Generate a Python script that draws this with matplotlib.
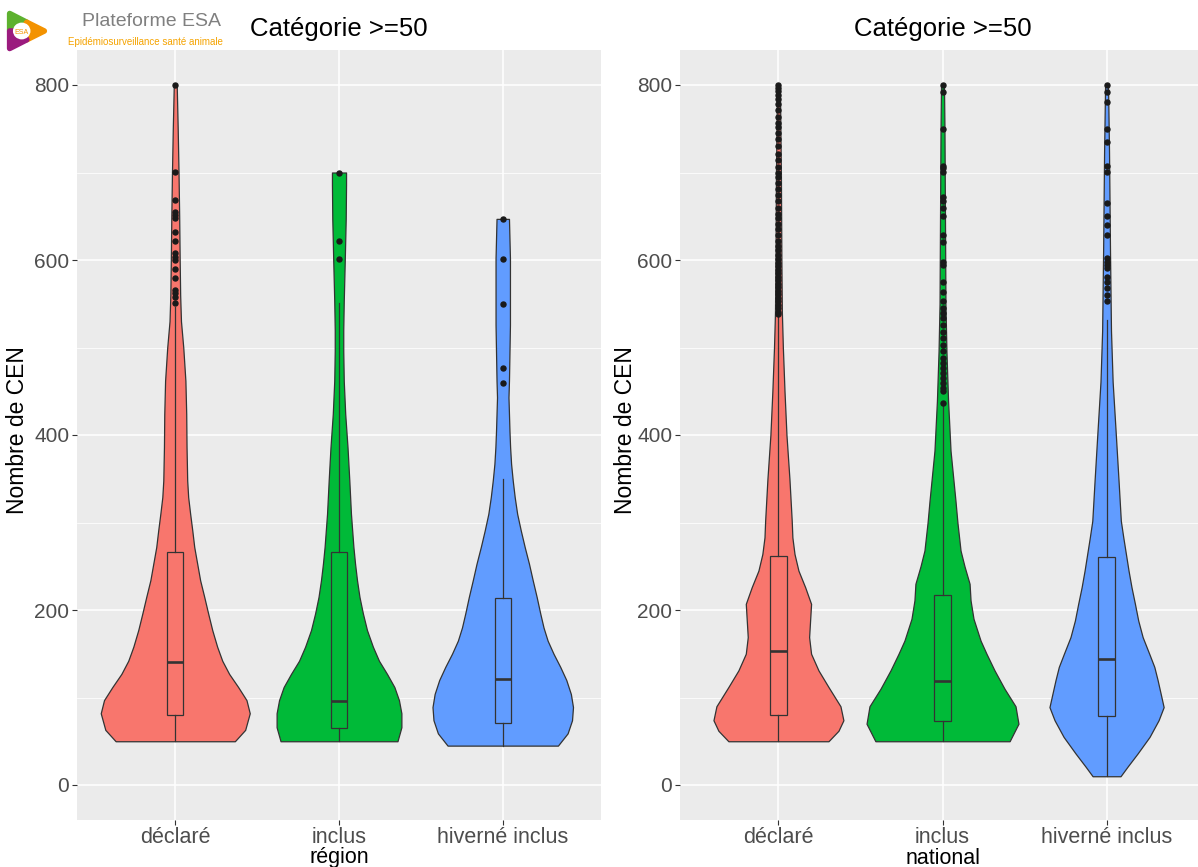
import matplotlib
matplotlib.use('Agg')
import matplotlib.pyplot as plt
import numpy as np
from matplotlib.patches import Polygon, Circle

plt.rcParams['font.family'] = ['Liberation Sans', 'DejaVu Sans']

# ---------------- data ----------------
categories = ['déclaré', 'inclus', 'hiverné inclus']
colors = ['#F8766D', '#00BA38', '#619CFF']
panel_titles = ['Catégorie >=50', 'Catégorie >=50']
x_titles = ['région', 'national']
y_title = 'Nombre de CEN'
y_ticks = [0, 200, 400, 600, 800]
y_minor = [100, 300, 500, 700]

# violin profiles (value level, half width in category units)
reg_decl_y = [50, 63, 82, 97, 112, 127, 142, 158, 177, 196, 215, 234, 253, 272, 291, 310, 329, 348, 367,
              386, 424, 462, 500, 530, 560, 600, 650, 700, 750, 800]
reg_decl_w = [0.364, 0.427, 0.455, 0.435, 0.384, 0.329, 0.287, 0.256, 0.226, 0.201, 0.177, 0.152, 0.134,
              0.116, 0.104, 0.091, 0.079, 0.073, 0.071, 0.069, 0.067, 0.062, 0.049, 0.035, 0.030, 0.027,
              0.024, 0.020, 0.015, 0.009]
reg_incl_y = [50, 66, 82, 97, 112, 127, 142, 158, 177, 196, 215, 234, 253, 272, 310, 348, 386, 424, 462,
              496, 520, 553, 598, 647, 686, 700]
reg_incl_w = [0.357, 0.381, 0.381, 0.366, 0.338, 0.293, 0.244, 0.207, 0.171, 0.146, 0.125, 0.110, 0.098,
              0.088, 0.073, 0.063, 0.052, 0.038, 0.029, 0.026, 0.026, 0.029, 0.035, 0.041, 0.043, 0.043]
reg_hiv_y = [45, 59, 74, 89, 104, 120, 135, 150, 165, 180, 196, 215, 234, 253, 272, 291, 310, 329, 348,
             367, 386, 405, 424, 443, 462, 526, 602, 647]
reg_hiv_w = [0.337, 0.396, 0.423, 0.429, 0.416, 0.388, 0.351, 0.310, 0.274, 0.249, 0.229, 0.207, 0.183,
             0.160, 0.134, 0.110, 0.088, 0.073, 0.061, 0.051, 0.045, 0.041, 0.038, 0.035, 0.038, 0.044,
             0.044, 0.038]

nat_decl_y = [50, 62, 74, 90, 112, 131, 150, 169, 188, 207, 226, 245, 264, 283, 302, 350, 400, 450, 500,
              540, 600, 700, 800]
nat_decl_w = [0.305, 0.366, 0.396, 0.378, 0.305, 0.244, 0.199, 0.187, 0.193, 0.199, 0.163, 0.122, 0.098,
              0.085, 0.081, 0.067, 0.049, 0.037, 0.027, 0.021, 0.018, 0.015, 0.009]
nat_incl_y = [50, 70, 90, 110, 131, 150, 165, 190, 211, 230, 250, 268, 300, 325, 382, 439, 496, 550, 650,
              750, 800]
nat_incl_w = [0.409, 0.463, 0.445, 0.378, 0.317, 0.268, 0.232, 0.189, 0.171, 0.165, 0.134, 0.110, 0.091,
              0.079, 0.049, 0.034, 0.024, 0.018, 0.015, 0.012, 0.009]
nat_hiv_y = [10, 21, 36, 55, 74, 89, 105, 120, 135, 150, 169, 188, 207, 226, 245, 264, 283, 302, 348, 405,
             461, 519, 610, 724, 800]
nat_hiv_w = [0.085, 0.128, 0.189, 0.262, 0.317, 0.348, 0.329, 0.311, 0.291, 0.260, 0.220, 0.193, 0.173,
             0.152, 0.134, 0.118, 0.102, 0.087, 0.073, 0.055, 0.037, 0.027, 0.021, 0.015, 0.009]

# box statistics: lower whisker, Q1, median, Q3, upper whisker
reg_boxes = [[50, 80.5, 140.5, 266.7, 546], [50, 64.6, 95.7, 265.9, 551], [45, 71.4, 121.6, 213.5, 349.5]]
nat_boxes = [[50, 80.5, 152.7, 262, 535], [50, 73, 118.5, 217.7, 435], [10, 79, 143.6, 260.2, 532]]

# outliers
reg_decl_out = [800, 701, 669, 655, 651, 648, 632, 622, 608, 604, 600, 590, 580, 566, 562, 558, 551]
reg_incl_out = [700, 622, 601]
reg_hiv_out = [647, 601, 550, 477, 460]
nat_decl_out = [800, 797, 793, 789, 784, 778, 771, 763, 757, 752, 745, 738, 730, 721, 714, 706, 700, 695,
                688, 681, 674, 667, 660, 653, 648, 641, 636, 629, 622, 616, 611, 606, 601, 597, 593, 589,
                585, 581, 577, 573, 569, 565, 561, 557, 553, 549, 545, 541, 538]
nat_incl_out = [800, 792, 750, 708, 705, 701, 672, 667, 659, 650, 629, 621, 598, 594, 575, 564, 553, 545,
                539, 534, 526, 518, 511, 503, 496, 488, 482, 477, 471, 465, 460, 454, 450, 437]
nat_hiv_out = [800, 792, 781, 750, 735, 708, 701, 665, 650, 640, 629, 602, 598, 594, 591, 581, 575, 568,
               560, 553]

# ---------------- figure ----------------
W, H = 1198, 867
fig = plt.figure(figsize=(W / 100, H / 100), dpi=100)
fig.patch.set_facecolor('white')


def px_axes(l, t, r, b):
    return fig.add_axes([l / W, 1 - b / H, (r - l) / W, (b - t) / H])


def draw_panel(ax, profiles, boxes, outliers, title):
    ax.set_facecolor('#EBEBEB')
    for s in ax.spines.values():
        s.set_visible(False)
    ax.set_xlim(0.4, 3.6)
    ax.set_ylim(-40, 840)
    ax.set_yticks(y_ticks)
    ax.set_yticks(y_minor, minor=True)
    ax.set_xticks([1, 2, 3])
    ax.set_xticklabels(categories)
    ax.grid(which='major', color='white', lw=1.1, zorder=0)
    ax.grid(which='minor', axis='y', color='white', lw=0.55, zorder=0)
    ax.set_axisbelow(True)
    ax.tick_params(which='major', length=3.5, width=0.8, color='#333333', labelcolor='#4D4D4D', pad=2)
    ax.tick_params(axis='x', labelsize=15.5, pad=1.2)
    ax.tick_params(axis='y', labelsize=15)
    ax.tick_params(which='minor', length=0)
    for i, ((yv, wv), col) in enumerate(zip(profiles, colors)):
        yv = np.asarray(yv, float)
        wv = np.asarray(wv, float)
        ax.fill_betweenx(yv, i + 1 - wv, i + 1 + wv, facecolor=col, edgecolor='#333333', lw=0.9, zorder=2)
    stats = [dict(whislo=b[0], q1=b[1], med=b[2], q3=b[3], whishi=b[4], fliers=o)
             for b, o in zip(boxes, outliers)]
    bp = ax.bxp(stats, positions=[1, 2, 3], widths=0.1, patch_artist=True, showcaps=False,
                boxprops=dict(edgecolor='#333333', lw=0.9),
                whiskerprops=dict(color='#333333', lw=0.9),
                medianprops=dict(color='#333333', lw=1.9),
                flierprops=dict(marker='o', markersize=3.6, markerfacecolor='#1A1A1A',
                                markeredgecolor='#1A1A1A', lw=0),
                manage_ticks=False, zorder=3)
    for patch, col in zip(bp['boxes'], colors):
        patch.set_facecolor(col)
        patch.set_zorder(3)
    ax.set_title(title, fontsize=18.5, pad=10, color='black')


ax1 = px_axes(77, 50, 601, 820)
ax2 = px_axes(680, 50, 1205, 820)

draw_panel(ax1, [(reg_decl_y, reg_decl_w), (reg_incl_y, reg_incl_w), (reg_hiv_y, reg_hiv_w)],
           reg_boxes, [reg_decl_out, reg_incl_out, reg_hiv_out], panel_titles[0])
draw_panel(ax2, [(nat_decl_y, nat_decl_w), (nat_incl_y, nat_incl_w), (nat_hiv_y, nat_hiv_w)],
           nat_boxes, [nat_decl_out, nat_incl_out, nat_hiv_out], panel_titles[1])

# axis titles
fig.text(18 / W, 1 - 430 / H, y_title, rotation=90, ha='center', va='center', fontsize=16.5)
fig.text(625 / W, 1 - 430 / H, y_title, rotation=90, ha='center', va='center', fontsize=16.5)
fig.text(339 / W, 1 - 858 / H, x_titles[0], ha='center', va='center', fontsize=15.5)
fig.text(943 / W, 1 - 858 / H, x_titles[1], ha='center', va='center', fontsize=15.5)

# logo
lax = fig.add_axes([6 / W, 1 - 52 / H, 42 / W, 42 / H])
lax.set_xlim(-0.1, 1.05)
lax.set_ylim(-0.1, 1.1)
lax.axis('off')
c = (0.33, 0.5)
for pts, col in [([(0, 0.5), (0, 1), (0.47, 0.75), c], '#5DB12F'),
                 ([(0.47, 0.75), (0.95, 0.5), (0.47, 0.25), c], '#F39200'),
                 ([(0.47, 0.25), (0, 0), (0, 0.5), c], '#9B1B7E')]:
    lax.add_patch(Polygon(pts, closed=True, facecolor=col, edgecolor=col, lw=4, joinstyle='round'))
lax.add_patch(Circle(c, 0.24, facecolor='white', edgecolor='none'))
lax.text(c[0], c[1] - 0.03, 'ESA', ha='center', va='center', fontsize=5, color='#F39200')
fig.text(82 / W, 1 - 22 / H, 'Plateforme ESA', ha='left', va='center', fontsize=14, color='#808080')
fig.text(68 / W, 1 - 42 / H, 'Epidémiosurveillance santé animale', ha='left', va='center',
         fontsize=7, color='#F5A300')

fig.savefig('out.png', dpi=100)
